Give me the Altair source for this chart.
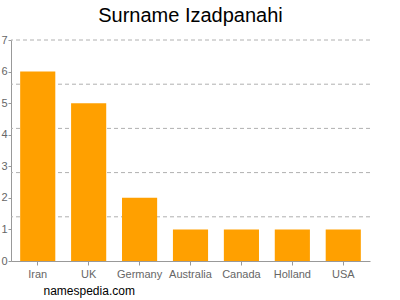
import altair as alt
import pandas as pd

countries = ["Iran", "UK", "Germany", "Australia", "Canada", "Holland", "USA"]
counts = [6, 5, 2, 1, 1, 1, 1]
grid_values = [1.4, 2.8, 4.2, 5.6, 7.0]
tick_values = [0, 1, 2, 3, 4, 5, 6, 7]

df = pd.DataFrame({"country": countries, "count": counts})
grid_df = pd.DataFrame({"g": grid_values})

yscale = alt.Scale(domain=[0, 7], nice=False)
yaxis = alt.Axis(
    title=None,
    values=tick_values,
    grid=False,
    labelColor="#666666",
    labelFontSize=11,
    labelFont="Liberation Sans",
    labelPadding=1,
    tickColor="#999999",
    tickSize=3,
    domainColor="#999999",
)

grid = alt.Chart(grid_df).mark_rule(color="#b0b0b0", strokeDash=[4, 3], strokeWidth=1).encode(
    y=alt.Y("g:Q", scale=yscale, axis=yaxis)
)

bars = alt.Chart(df).mark_bar(color="#FFA000").encode(
    x=alt.X(
        "country:N",
        sort=countries,
        scale=alt.Scale(paddingInner=0.31, paddingOuter=0.18),
        axis=alt.Axis(
            title="namespedia.com",
            titleAnchor="start",
            titleAlign="left",
            titleBaseline="alphabetic",
            titleX=32,
            titleY=33,
            titleFontSize=12,
            titleFontWeight="normal",
            titleColor="#000000",
            titleFont="Liberation Sans",
            labelAngle=0,
            labelColor="#666666",
            labelFontSize=11,
            labelFont="Liberation Sans",
            labelPadding=3,
            tickColor="#999999",
            tickSize=4,
            domainColor="#999999",
        ),
    ),
    y=alt.Y("count:Q", scale=yscale, axis=yaxis),
)

chart = (
    alt.layer(grid, bars)
    .properties(
        width=359,
        height=221,
        autosize=alt.AutoSizeParams(type="none"),
        padding={"left": 11, "top": 40, "right": 30, "bottom": 39},
        title=alt.TitleParams(
            "Surname Izadpanahi",
            fontSize=20,
            fontWeight="normal",
            font="Liberation Sans",
            color="#000000",
            anchor="middle",
            offset=8,
        ),
    )
    .configure_view(stroke=None)
)

chart.save("out.html", embed_options={"renderer": "svg", "actions": False})
